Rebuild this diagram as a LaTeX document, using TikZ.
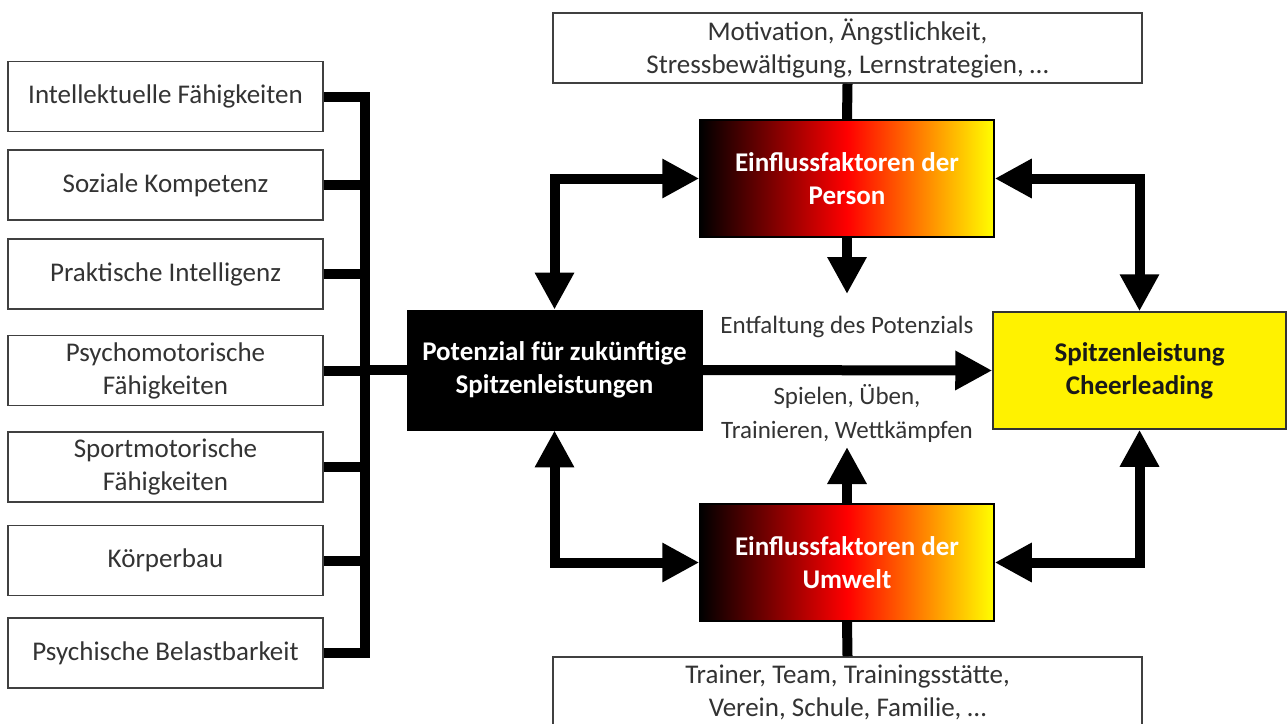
\documentclass[tikz,border=0pt]{standalone}
\usepackage{fontspec}
\setmainfont{Carlito}
\usetikzlibrary{arrows.meta}

\begin{document}
\begin{tikzpicture}[x=0.5pt, y=-0.5pt,
	font=\fontsize{13.5}{16.5}\selectfont,
	>={Triangle[length=18.5pt,width=18.5pt]},
	fat/.style={line width=5pt, line join=miter},
	whitebox/.style={draw=black!75, line width=0.75pt, fill=white, text=black!80, align=center, inner sep=0pt},
	heatbox/.style={draw=black, line width=0.75pt, left color=black, right color=yellow, middle color=red, text=white, font=\fontsize{13.5}{16.5}\selectfont\bfseries, align=center, inner sep=0pt, minimum width=147pt, minimum height=58.5pt}]
	\useasboundingbox (0,0) rectangle (1288,723);

	% linke Spalte
	\node[whitebox, minimum width=157.5pt, minimum height=35pt](l1) at (165.5,96.5) {Intellektuelle Fähigkeiten};
	\node[whitebox, minimum width=157.5pt, minimum height=35pt](l2) at (165.5,185) {Soziale Kompetenz};
	\node[whitebox, minimum width=157.5pt, minimum height=35pt](l3) at (165.5,274) {Praktische Intelligenz};
	\node[whitebox, minimum width=157.5pt, minimum height=35pt](l4) at (165.5,370.5) {Psychomotorische\\Fähigkeiten};
	\node[whitebox, minimum width=157.5pt, minimum height=35pt](l5) at (165.5,467) {Sportmotorische\\Fähigkeiten};
	\node[whitebox, minimum width=157.5pt, minimum height=35pt](l6) at (165.5,560.5) {Körperbau};
	\node[whitebox, minimum width=157.5pt, minimum height=35pt](l7) at (165.5,653) {Psychische Belastbarkeit};
	\coordinate(bus) at (365,0);

	% Mitte und rechts
	\node[draw, fill=black, text=white, font=\fontsize{13.5}{16.5}\selectfont\bfseries, align=center, minimum width=147.5pt, minimum height=60pt, inner sep=0pt](pot) at (554.5,370) {Potenzial für zukünftige\\Spitzenleistungen};
	\node[heatbox](person) at (847,178.5) {Einflussfaktoren der\\Person};
	\node[heatbox](umwelt) at (847,562.5) {Einflussfaktoren der\\Umwelt};
	\node[draw=black!80, line width=0.75pt, fill=yellow, text=black!90, font=\fontsize{13.5}{16.5}\selectfont\bfseries, align=center, minimum width=146.5pt, minimum height=58.5pt, inner sep=0pt](spitz) at (1139.5,370.5) {Spitzenleistung\\Cheerleading};
	\node[whitebox, minimum width=294.5pt, minimum height=35pt](pers) at (847.5,48) {Motivation, Ängstlichkeit,\\Stressbewältigung, Lernstrategien, \dots};
	\node[whitebox, minimum width=294.5pt, minimum height=35pt](umw) at (847.5,692) {Trainer, Team, Trainingsstätte,\\Verein, Schule, Familie, \dots};

	\coordinate(pdown) at (847,294);
	\coordinate(uup) at (847,447);

	\node[text=black!80, font=\fontsize{12.5}{16.5}\selectfont](entf) at (847,327) {Entfaltung des Potenzials};
	\node[text=black!80, font=\fontsize{12.5}{17}\selectfont, align=center](spiel) at (847,413) {Spielen, Üben,\\Trainieren, Wettkämpfen};

	% Verbindungen
	\draw[fat](l1.east) -| (bus |- l7.east) -- (l7.east);
	\foreach \n in {2,...,6}
		\draw[fat](l\n.east) -- (bus |- l\n.east);
	\draw[fat](bus |- pot.west) -- (pot.west);

	\draw[fat,->](pot.east) -- (spitz.west);
	\draw[fat,<->](pot.north) |- (person.west);
	\draw[fat,<->](person.east) -| (spitz.north);
	\draw[fat,<->](pot.south) |- (umwelt.west);
	\draw[fat,<->](spitz.south) |- (umwelt.east);
	\draw[fat,->](person.south) -- (pdown);
	\draw[fat,->](umwelt.north) -- (uup);
	\draw[fat](pers.south) -- (person.north);
	\draw[fat](umw.north) -- (umwelt.south);
\end{tikzpicture}
\end{document}
